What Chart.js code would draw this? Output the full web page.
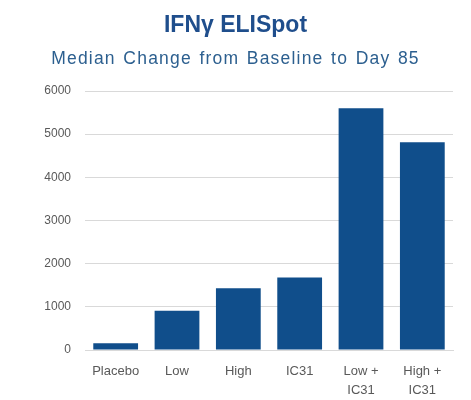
<!DOCTYPE html>
<html><head><meta charset="utf-8">
<script src="https://cdn.jsdelivr.net/npm/chart.js@4.4.1/dist/chart.umd.min.js"></script>
<style>html,body{margin:0;padding:0;background:#fff}#wrap{width:471px;height:400px}</style>
</head><body><div id="wrap"><canvas id="c"></canvas></div>
<script>
const categories = [["Placebo"], ["Low"], ["High"], ["IC31"], ["Low +", "IC31"], ["High +", "IC31"]];
const values = [155, 910, 1430, 1680, 5600, 4810];
const yTicks = [0, 1000, 2000, 3000, 4000, 5000, 6000];
const titleText = "IFNγ ELISpot";
const subtitleText = "Median Change from Baseline to Day 85";

const headerPlugin = {
  id: 'header',
  afterDraw(chart) {
    const ctx = chart.ctx;
    const cx = chart.width / 2;
    ctx.save();
    ctx.textAlign = 'center';
    ctx.textBaseline = 'alphabetic';
    ctx.fillStyle = '#1F4E8C';
    ctx.font = 'bold 23px "Liberation Sans", Arial, sans-serif';
    ctx.fillText(titleText, cx, 32);
    ctx.fillStyle = '#2C5F8F';
    ctx.font = '17.5px "Liberation Sans", Arial, sans-serif';
    if ('letterSpacing' in ctx) ctx.letterSpacing = '1.2px';
    if ('wordSpacing' in ctx) ctx.wordSpacing = '1.5px';
    ctx.fillText(subtitleText, cx, 64);
    ctx.restore();
  }
};

new Chart(document.getElementById('c'), {
  type: 'bar',
  data: { labels: categories, datasets: [{ data: values, backgroundColor: '#104E8B', barPercentage: 0.73, categoryPercentage: 1 }] },
  plugins: [headerPlugin],
  options: {
    responsive: true, maintainAspectRatio: false, animation: false,
    layout: { padding: { left: 0, right: 18, top: 91, bottom: 0 } },
    plugins: { legend: { display: false }, tooltip: { enabled: false } },
    scales: {
      x: { grid: { display: false }, border: { color: '#D9D9D9' }, afterFit: s => { s.height = 50; },
           ticks: { color: '#595959', font: { family: 'Liberation Sans, Arial', size: 13, lineHeight: 1.45 }, maxRotation: 0, padding: 4 } },
      y: { min: 0, max: 6000, afterFit: s => { s.width = 85; },
           afterBuildTicks: s => { s.ticks = yTicks.map(v => ({ value: v })); },
           grid: { color: '#D9D9D9', drawTicks: false }, border: { display: false },
           ticks: { color: '#595959', font: { family: 'Liberation Sans, Arial', size: 12 }, padding: 14, callback: v => String(v) } }
    }
  }
});
</script></body></html>
